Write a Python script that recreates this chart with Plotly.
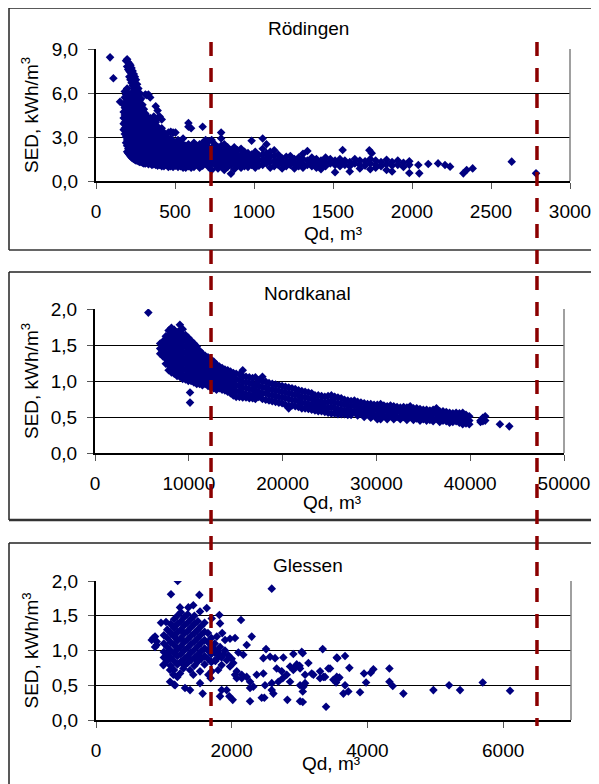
import plotly.graph_objects as go

W, H = 599, 784          # browser window
OFF = 8                  # default page margin around the plot div
FW, FH = W - OFF, H - OFF
FONT = "Liberation Sans, Arial, sans-serif"

# ---------------- Rödingen ----------------
rod_col_qd = [175, 182, 190, 197, 204, 211, 218, 225, 232, 239, 246, 253, 260, 268, 276, 285, 294, 303,
              312, 322, 332, 343, 354, 366, 378, 390, 403, 416, 430, 444, 458, 473, 488, 503, 519, 535,
              551, 568, 585, 602, 620, 638, 656, 675, 694, 713, 732, 752, 772, 792, 812, 833, 854, 875,
              896, 918, 940, 962, 985, 1008, 1031, 1055, 1079, 1103, 1128, 1153, 1178, 1204, 1230, 1256,
              1283, 1310, 1338, 1366, 1395, 1424, 1453, 1483, 1513, 1544, 1575, 1606, 1638, 1670, 1703,
              1736, 1770, 1804, 1839, 1874, 1910, 1946, 1983]
rod_col_sed = [
    [5.2, 4.7, 4.3, 3.9, 3.5],
    [6.1, 5.7, 5.0, 4.5, 4.0, 3.6, 3.2],
    [8.2, 5.9, 5.4, 4.9, 4.4, 3.9, 3.4, 3.0, 2.6],
    [8.3, 7.8, 6.3, 5.6, 5.0, 4.6, 4.1, 3.7, 3.2, 2.8, 2.4, 2.0],
    [8.1, 7.6, 6.0, 5.5, 5.1, 4.7, 4.2, 3.8, 3.4, 3.0, 2.6, 2.2, 1.9],
    [8.0, 7.5, 7.1, 5.8, 5.3, 4.9, 4.4, 4.0, 3.6, 3.2, 2.8, 2.4, 2.0, 1.8],
    [7.9, 7.4, 6.9, 5.6, 5.1, 4.6, 4.2, 3.8, 3.4, 3.0, 2.6, 2.2, 1.9, 1.7],
    [7.7, 7.2, 6.7, 6.0, 5.4, 4.9, 4.4, 4.0, 3.5, 3.1, 2.7, 2.3, 1.9, 1.6],
    [7.5, 7.0, 6.5, 5.7, 5.2, 4.7, 4.2, 3.7, 3.3, 2.9, 2.5, 2.1, 1.8, 1.55],
    [7.3, 6.8, 6.3, 5.9, 5.4, 4.9, 4.4, 3.9, 3.5, 3.0, 2.6, 2.2, 1.8, 1.5],
    [7.1, 6.6, 6.1, 5.5, 5.0, 4.5, 4.1, 3.6, 3.2, 2.8, 2.4, 2.0, 1.65, 1.45],
    [6.9, 6.4, 5.9, 5.3, 4.8, 4.3, 3.9, 3.4, 3.0, 2.6, 2.2, 1.85, 1.5, 1.4],
    [6.6, 6.2, 5.6, 5.1, 4.6, 4.1, 3.7, 3.3, 2.9, 2.5, 2.1, 1.7, 1.4],
    [6.3, 5.8, 5.3, 4.8, 4.3, 3.9, 3.5, 3.1, 2.7, 2.3, 1.9, 1.6, 1.35],
    [6.0, 5.5, 5.0, 4.5, 4.1, 3.6, 3.2, 2.8, 2.4, 2.0, 1.7, 1.3],
    [5.6, 5.1, 4.6, 4.2, 3.8, 3.4, 3.0, 2.6, 2.2, 1.9, 1.55, 1.3],
    [5.2, 4.8, 4.3, 3.9, 3.5, 3.1, 2.7, 2.4, 2.0, 1.7, 1.4, 1.25],
    [4.9, 4.5, 4.1, 3.7, 3.3, 2.9, 2.5, 2.2, 1.9, 1.6, 1.3, 1.2],
    [5.9, 4.6, 4.2, 3.8, 3.4, 3.0, 2.7, 2.3, 2.0, 1.7, 1.4, 1.2],
    [5.85, 4.4, 4.0, 3.5, 3.1, 2.8, 2.4, 2.1, 1.8, 1.5, 1.25],
    [5.9, 4.2, 3.7, 3.3, 2.9, 2.6, 2.2, 1.9, 1.6, 1.35, 1.15],
    [5.7, 4.3, 3.9, 3.4, 3.0, 2.7, 2.3, 2.0, 1.7, 1.4, 1.2],
    [4.1, 3.6, 3.2, 2.8, 2.5, 2.1, 1.8, 1.5, 1.25, 1.1],
    [4.4, 3.8, 3.3, 2.9, 2.6, 2.2, 1.9, 1.6, 1.3, 1.15],
    [5.1, 4.0, 3.5, 3.1, 2.7, 2.4, 2.0, 1.7, 1.4, 1.1],
    [4.8, 4.3, 3.7, 3.2, 2.8, 2.5, 2.1, 1.8, 1.5, 1.2, 1.05],
    [4.4, 3.4, 3.0, 2.6, 2.3, 1.9, 1.6, 1.3, 1.1],
    [4.2, 3.6, 3.1, 2.7, 2.4, 2.0, 1.7, 1.4, 1.15, 1.0],
    [3.3, 2.9, 2.5, 2.1, 1.8, 1.5, 1.2, 1.0],
    [3.0, 2.6, 2.3, 1.9, 1.6, 1.3, 1.1],
    [3.3, 2.8, 2.4, 2.1, 1.8, 1.4, 1.15, 0.95],
    [3.35, 2.9, 2.5, 2.2, 1.9, 1.6, 1.3, 1.0],
    [3.3, 2.7, 2.3, 2.0, 1.7, 1.4, 1.1, 0.95],
    [3.3, 2.6, 2.2, 1.9, 1.6, 1.3, 1.05],
    [2.8, 2.4, 2.1, 1.8, 1.5, 1.2, 0.95],
    [2.6, 2.3, 1.9, 1.6, 1.3, 1.0],
    [2.9, 2.5, 2.1, 1.8, 1.5, 1.15, 0.9],
    [2.4, 2.0, 1.7, 1.4, 1.1, 0.9],
    [3.95, 3.7, 2.5, 2.2, 1.9, 1.6, 1.3, 1.0],
    [3.6, 2.3, 2.0, 1.7, 1.4, 1.1, 0.9],
    [2.6, 2.2, 1.9, 1.5, 1.2, 0.95],
    [2.4, 2.1, 1.8, 1.45, 1.15],
    [2.5, 2.2, 1.9, 1.6, 1.3, 0.9],
    [3.7, 2.6, 2.3, 2.0, 1.7, 1.4, 1.05],
    [2.8, 2.4, 2.1, 1.8, 1.5, 1.2],
    [2.7, 2.3, 2.0, 1.6, 1.3, 0.95],
    [2.8, 2.2, 1.9, 1.5, 1.2, 0.75],
    [2.5, 2.1, 1.8, 1.4, 1.1],
    [2.3, 2.0, 1.6, 1.3, 0.85],
    [3.3, 2.9, 2.4, 2.0, 1.7, 1.4, 1.0],
    [2.5, 2.1, 1.8, 1.5, 1.15, 0.75],
    [2.3, 1.9, 1.6, 1.3, 0.95],
    [2.1, 1.8, 1.4, 1.1, 0.5],
    [2.3, 1.9, 1.6, 1.25, 0.8],
    [2.1, 1.7, 1.4, 1.05],
    [2.2, 1.8, 1.5, 1.2, 0.9],
    [2.0, 1.7, 1.35, 1.0],
    [1.9, 1.55, 1.2, 0.95],
    [2.75, 1.8, 1.45, 1.1],
    [2.0, 1.65, 1.3, 0.9],
    [1.75, 1.4, 1.05],
    [2.9, 2.2, 1.8, 1.45, 1.1],
    [2.5, 1.9, 1.55, 1.2],
    [2.0, 1.65, 1.3, 0.9],
    [2.1, 1.7, 1.35, 1.0],
    [1.8, 1.45, 1.1],
    [1.55, 1.25, 0.85],
    [1.65, 1.3, 1.0],
    [1.7, 1.4, 1.1],
    [1.5, 1.2, 0.85],
    [1.6, 1.3, 1.0],
    [1.85, 1.5, 1.15, 0.9],
    [2.05, 1.4, 1.1],
    [1.6, 1.3, 1.0],
    [1.5, 1.2, 0.9],
    [1.4, 1.1, 0.8],
    [1.6, 1.3, 1.0],
    [1.5, 1.2],
    [1.4, 1.1, 0.6],
    [1.5, 1.25, 1.0],
    [1.4, 1.1],
    [1.3, 1.0, 0.65],
    [1.5, 1.2],
    [1.4, 1.1, 0.85],
    [1.35, 1.05],
    [1.5, 1.2, 0.8],
    [1.4, 1.1, 0.9],
    [1.3, 1.0],
    [1.45, 1.15, 0.75],
    [1.3, 1.05, 0.65],
    [1.4, 1.1],
    [1.25, 0.95],
    [1.35, 1.1, 0.55],
]
rod_single_qd = [89, 110, 152, 1561, 1730, 1745, 2040, 2046, 2103, 2165, 2209, 2241, 2325, 2346, 2384, 2631, 2785]
rod_single_sed = [8.43, 7.0, 5.4, 2.11, 2.1, 1.9, 1.09, 0.52, 1.16, 1.2, 1.09, 0.98, 0.52, 0.75, 0.86, 1.32, 0.52]

# ---------------- Nordkanal ----------------
nord_col_qd = [6950, 7250, 7550, 7850, 8150, 8450, 8750, 9050, 9350, 9650, 9950, 10250, 10550, 10850, 11150,
               11450, 11750, 12050, 12350, 12650, 12950, 13250, 13550, 13850, 14150, 14450, 14750, 15050,
               15400, 15750, 16100, 16450, 16800, 17100, 17450, 17850, 18200, 18550, 18900, 19250, 19600,
               19950, 20300, 20650, 21000, 21350, 21700, 22050, 22400, 22750, 23100, 23450, 23800, 24150,
               24500, 24850, 25200, 25550, 25900, 26250, 26600, 26950, 27300, 27650, 28000, 28350, 28700,
               29050, 29400, 29750, 30100, 30450, 30800, 31150, 31500, 31850, 32200, 32550, 32900, 33250,
               33600, 33950, 34300, 34650, 35000, 35350, 35700, 36050, 36400, 36750, 37100, 37450, 37800,
               38150, 38500, 38850, 39200, 39550, 39900, 41100, 41350, 41600]
nord_col_sed = [
    [1.52, 1.45, 1.38],
    [1.55, 1.48, 1.41, 1.34],
    [1.62, 1.55, 1.47, 1.39, 1.31, 1.24],
    [1.70, 1.62, 1.54, 1.46, 1.38, 1.30, 1.22, 1.15],
    [1.74, 1.66, 1.58, 1.50, 1.42, 1.34, 1.26, 1.18, 1.12],
    [1.71, 1.63, 1.55, 1.47, 1.39, 1.31, 1.23, 1.15, 1.10],
    [1.68, 1.60, 1.52, 1.44, 1.36, 1.28, 1.20, 1.12, 1.07],
    [1.78, 1.70, 1.62, 1.54, 1.46, 1.38, 1.30, 1.22, 1.14, 1.06],
    [1.72, 1.64, 1.56, 1.48, 1.40, 1.32, 1.24, 1.16, 1.08, 1.03],
    [1.64, 1.56, 1.48, 1.40, 1.32, 1.24, 1.16, 1.08, 1.02],
    [1.60, 1.52, 1.44, 1.36, 1.28, 1.20, 1.12, 1.04, 1.00],
    [1.56, 1.48, 1.40, 1.32, 1.24, 1.16, 1.08, 1.00],
    [1.52, 1.45, 1.37, 1.29, 1.21, 1.13, 1.05, 0.98],
    [1.48, 1.40, 1.32, 1.24, 1.16, 1.08, 1.00, 0.96],
    [1.42, 1.35, 1.27, 1.19, 1.11, 1.03, 0.96],
    [1.38, 1.31, 1.23, 1.15, 1.07, 0.99, 0.94],
    [1.35, 1.28, 1.20, 1.12, 1.04, 0.96],
    [1.33, 1.25, 1.17, 1.09, 1.01, 0.93],
    [1.30, 1.22, 1.14, 1.06, 0.98, 0.91],
    [1.27, 1.19, 1.11, 1.03, 0.95, 0.90],
    [1.23, 1.16, 1.08, 1.00, 0.93, 0.88],
    [1.20, 1.13, 1.05, 0.98, 0.90],
    [1.18, 1.11, 1.03, 0.96, 0.88],
    [1.16, 1.09, 1.01, 0.94, 0.87],
    [1.15, 1.07, 1.00, 0.92, 0.85],
    [1.13, 1.05, 0.97, 0.90, 0.83],
    [1.11, 1.04, 0.96, 0.88, 0.80],
    [1.10, 1.02, 0.94, 0.86, 0.78],
    [1.09, 1.01, 0.93, 0.85, 0.78],
    [1.15, 1.07, 0.99, 0.91, 0.83, 0.77],
    [1.06, 0.98, 0.90, 0.82, 0.77],
    [1.05, 0.97, 0.89, 0.81, 0.76],
    [1.04, 0.96, 0.88, 0.80, 0.76],
    [1.05, 0.95, 0.87, 0.79, 0.75],
    [1.01, 0.93, 0.85, 0.78],
    [1.06, 0.99, 0.91, 0.83, 0.75],
    [0.99, 0.91, 0.83, 0.74],
    [0.97, 0.89, 0.81, 0.73],
    [0.96, 0.88, 0.80, 0.72],
    [0.95, 0.87, 0.79, 0.71],
    [0.94, 0.86, 0.78, 0.70],
    [0.93, 0.85, 0.77, 0.69],
    [0.92, 0.84, 0.76, 0.67],
    [0.91, 0.83, 0.75, 0.66, 0.62],
    [0.90, 0.82, 0.74, 0.66],
    [0.89, 0.81, 0.73, 0.65],
    [0.87, 0.80, 0.72, 0.64],
    [0.86, 0.78, 0.70, 0.62],
    [0.85, 0.77, 0.69, 0.62],
    [0.84, 0.76, 0.68, 0.61],
    [0.83, 0.75, 0.67, 0.60],
    [0.80, 0.73, 0.66, 0.59],
    [0.80, 0.72, 0.65, 0.58],
    [0.79, 0.71, 0.64, 0.58],
    [0.78, 0.70, 0.63, 0.57],
    [0.79, 0.71, 0.63, 0.56],
    [0.80, 0.72, 0.64, 0.55],
    [0.78, 0.70, 0.62, 0.55],
    [0.77, 0.69, 0.61, 0.54],
    [0.76, 0.68, 0.60, 0.54],
    [0.74, 0.67, 0.59, 0.54],
    [0.73, 0.66, 0.59, 0.53],
    [0.72, 0.65, 0.58, 0.53],
    [0.73, 0.66, 0.58],
    [0.71, 0.64, 0.57, 0.52],
    [0.70, 0.63, 0.56],
    [0.69, 0.62, 0.55, 0.50],
    [0.68, 0.62, 0.55],
    [0.68, 0.61, 0.54, 0.49],
    [0.67, 0.60, 0.53],
    [0.67, 0.60, 0.53, 0.47],
    [0.68, 0.61, 0.54, 0.47],
    [0.66, 0.59, 0.52],
    [0.65, 0.58, 0.51, 0.47],
    [0.66, 0.59, 0.52],
    [0.65, 0.58, 0.51, 0.47],
    [0.64, 0.57, 0.50],
    [0.63, 0.57, 0.50, 0.47],
    [0.64, 0.57, 0.50],
    [0.63, 0.56, 0.49, 0.46],
    [0.65, 0.58, 0.51],
    [0.62, 0.55, 0.48, 0.46],
    [0.62, 0.55, 0.48],
    [0.61, 0.55, 0.48, 0.45],
    [0.60, 0.54, 0.47],
    [0.60, 0.53, 0.47, 0.45],
    [0.59, 0.53, 0.46],
    [0.60, 0.54, 0.47, 0.44],
    [0.62, 0.55, 0.48],
    [0.58, 0.52, 0.45, 0.43],
    [0.58, 0.51, 0.45],
    [0.57, 0.51, 0.44],
    [0.56, 0.50, 0.44, 0.42],
    [0.55, 0.49, 0.43],
    [0.56, 0.50, 0.44],
    [0.55, 0.49, 0.42],
    [0.56, 0.50, 0.44, 0.40],
    [0.53, 0.47, 0.41],
    [0.51, 0.45, 0.40],
    [0.45, 0.43],
    [0.49, 0.44],
    [0.51, 0.45],
]
nord_single_qd = [5686, 10130, 10130, 43170, 44170]
nord_single_sed = [1.95, 0.84, 0.70, 0.40, 0.37]

# ---------------- Glessen ----------------
gle_col_qd = [1000, 1050, 1100, 1150, 1200, 1250, 1300, 1350, 1400, 1450, 1500, 1550, 1600, 1650, 1700, 1750, 1800]
gle_col_sed = [
    [1.22, 1.10, 0.98, 0.90],
    [1.30, 1.18, 1.05, 0.95, 0.85],
    [1.38, 1.25, 1.12, 1.00, 0.90, 0.78],
    [1.45, 1.32, 1.20, 1.08, 0.96, 0.85, 0.72],
    [1.50, 1.38, 1.26, 1.14, 1.02, 0.92, 0.80],
    [1.55, 1.42, 1.30, 1.18, 1.06, 0.95, 0.84],
    [1.48, 1.36, 1.24, 1.12, 1.00, 0.88, 0.78],
    [1.52, 1.40, 1.28, 1.16, 1.04, 0.92, 0.82],
    [1.45, 1.33, 1.21, 1.09, 0.97, 0.86],
    [1.50, 1.38, 1.25, 1.13, 1.01, 0.90, 0.78],
    [1.42, 1.30, 1.18, 1.06, 0.94, 0.84],
    [1.35, 1.23, 1.11, 0.99, 0.88],
    [1.40, 1.27, 1.15, 1.03, 0.92, 0.80],
    [1.25, 1.12, 1.00, 0.88],
    [1.18, 1.06, 0.95, 0.83],
    [1.10, 0.97, 0.86],
    [0.98, 0.90, 0.72],
]
gle_single_qd = [1204, 1105, 1523, 2590, 1238, 1361, 1434, 1533, 1632, 1705, 1818, 1828, 2137, 958, 1032,
                 845, 895, 821, 870, 870, 894, 1002, 1091, 1150, 1312, 1386, 1572, 1690, 1533,
                 1852, 1926, 1965, 2015, 1828, 2270, 2442, 2481, 2270, 2590, 2614, 2820, 3007, 3047, 3390,
                 2295, 2506, 3341, 3548, 2908, 3032, 2098, 2171, 2221, 2466, 2565, 2639, 2761,
                 3130, 2958, 2860, 2074, 2148, 2221, 2368, 2466, 2663, 2737, 2811,
                 2908, 3007, 3081, 3179, 3302, 3351, 3449, 3498, 3571, 2590, 2687, 2752, 2860, 3007, 3056,
                 2270, 2319, 2491, 2049, 2074, 2148, 1877, 1926, 1852, 1975, 2024, 1754, 1828, 1902, 1975, 2049,
                 1656, 1705, 1533, 1434, 1386, 1287, 1091, 1140, 1199, 1238, 992, 1165,
                 3047, 3000, 2950, 3204, 3081, 3047, 3375, 3302, 3424, 3538, 3548, 3587, 3557, 3670, 3734,
                 3670, 3646, 3719, 3891, 3950, 3980, 4049, 4088, 4324, 4324, 4373, 4530, 4972, 5203, 5365,
                 5699, 6102, 1790, 1850, 1900, 1950, 2000, 1780, 1860, 1760]
gle_single_sed = [2.0, 1.81, 1.80, 1.89, 1.62, 1.62, 1.65, 1.56, 1.61, 1.46, 1.51, 1.39, 1.44, 1.40, 1.41,
                  1.18, 1.13, 1.15, 1.05, 1.2, 1.08, 0.80, 0.55, 0.51, 0.46, 0.43, 0.38, 0.60, 0.53,
                  0.43, 0.43, 0.34, 0.29, 0.34, 0.27, 0.32, 0.32, 0.46, 0.43, 0.38, 0.29, 0.27, 0.41, 0.19,
                  1.20, 1.02, 1.02, 0.90, 0.95, 0.98, 0.97, 0.94, 1.08, 0.89, 0.91, 0.89, 0.90,
                  0.82, 0.80, 0.77, 0.70, 0.65, 0.62, 0.65, 0.67, 0.74, 0.70, 0.65,
                  0.72, 0.74, 0.65, 0.67, 0.70, 0.62, 0.74, 0.58, 0.60, 0.53, 0.55, 0.60, 0.55, 0.50, 0.48,
                  0.55, 0.48, 0.50, 0.65, 0.60, 0.60, 0.94, 0.86, 0.79, 0.77, 0.82, 1.01, 1.05, 1.15, 1.17, 1.18,
                  0.65, 0.70, 0.70, 0.65, 0.72, 0.74, 0.72, 0.65, 0.62, 0.67, 0.79, 0.50,
                  0.96, 0.78, 0.78, 0.65, 0.53, 0.26, 0.62, 0.60, 0.74, 0.54, 0.62, 0.61, 0.89, 0.92, 0.75,
                  0.50, 0.38, 0.41, 0.40, 0.67, 0.54, 0.68, 0.73, 0.74, 0.55, 0.49, 0.38, 0.43, 0.50, 0.43,
                  0.54, 0.42, 0.95, 0.90, 1.00, 0.93, 0.88, 1.20, 1.25, 0.85]

# ---------------- axes / labels ----------------
titles = ["Rödingen", "Nordkanal", "Glessen"]
x_ranges = [[0, 3000], [0, 50000], [0, 7000]]
x_ticks = [[0, 500, 1000, 1500, 2000, 2500, 3000],
           [0, 10000, 20000, 30000, 40000, 50000],
           [0, 2000, 4000, 6000]]
y_ranges = [[0, 9], [0, 2], [0, 2]]
y_ticks = [[0, 3, 6, 9], [0, 0.5, 1.0, 1.5, 2.0], [0, 0.5, 1.0, 1.5, 2.0]]
y_ticktext = [["0,0", "3,0", "6,0", "9,0"],
              ["0,0", "0,5", "1,0", "1,5", "2,0"],
              ["0,0", "0,5", "1,0", "1,5", "2,0"]]
x_title = "Qd, m³"
y_title = "SED, kWh/m<sup>3</sup>"
limit_qd_rod = [728, 2791]   # dashed limit lines, read on the Rödingen axis

# layout positions in window pixels
areas = [(96, 49, 570, 181), (95, 309, 564, 453), (96, 581, 571, 720)]   # plot areas l, t, r, b
title_pos = [(308, 28), (307, 293), (308, 565)]
xtitle_pos = [(333, 233), (332, 503), (331, 763)]


def flat(cols_x, cols_y, sx, sy):
    xs, ys = [], []
    for x, yl in zip(cols_x, cols_y):
        for y in yl:
            xs.append(x)
            ys.append(y)
    return xs + list(sx), ys + list(sy)


datasets = [flat(rod_col_qd, rod_col_sed, rod_single_qd, rod_single_sed),
            flat(nord_col_qd, nord_col_sed, nord_single_qd, nord_single_sed),
            flat(gle_col_qd, gle_col_sed, gle_single_qd, gle_single_sed)]


def px(p):
    return min(max((p - OFF) / FW, 0.0), 1.0)


def py(p):
    return min(max(1 - (p - OFF) / FH, 0.0), 1.0)


fig = go.Figure()
layout = dict(width=FW, height=FH, margin=dict(l=0, r=0, t=0, b=0, autoexpand=False),
              paper_bgcolor="white", plot_bgcolor="white", showlegend=False,
              font=dict(family=FONT, size=19, color="black"))
shapes = []
annotations = []

for i in range(3):
    sfx = "" if i == 0 else str(i + 1)
    xs, ys = datasets[i]
    fig.add_trace(go.Scatter(x=xs, y=ys, mode="markers", xaxis="x" + sfx, yaxis="y" + sfx,
                             marker=dict(symbol="diamond", size=6.6, color="#000080",
                                         line=dict(width=0)),
                             hoverinfo="x+y"))
    l, t, r, b = areas[i]
    layout["xaxis" + sfx] = dict(domain=[px(l), px(r)], range=x_ranges[i], anchor="y" + sfx,
                                 tickvals=x_ticks[i], ticktext=[str(v) for v in x_ticks[i]],
                                 ticks="outside", ticklen=6, tickwidth=1, tickcolor="#555",
                                 showline=True, linecolor="black", linewidth=2,
                                 showgrid=False, zeroline=False, automargin=False,
                                 ticklabelstandoff=6,
                                 tickfont=dict(family=FONT, size=19, color="black"))
    layout["yaxis" + sfx] = dict(domain=[py(b), py(t)], range=y_ranges[i], anchor="x" + sfx,
                                 tickvals=y_ticks[i], ticktext=y_ticktext[i],
                                 ticks="outside", ticklen=6, tickwidth=1, tickcolor="#555",
                                 showline=True, linecolor="black", linewidth=2,
                                 showgrid=True, gridcolor="black", gridwidth=1, zeroline=False,
                                 ticklabelstandoff=6, automargin=False,
                                 tickfont=dict(family=FONT, size=19, color="black"))
    # right border of plot area (gray)
    shapes.append(dict(type="line", xref="paper", yref="paper", x0=px(r), x1=px(r), y0=py(b), y1=py(t),
                       line=dict(color="#808080", width=1.5)))
    # panel title, axis titles
    annotations.append(dict(text=titles[i], xref="paper", yref="paper",
                            x=px(title_pos[i][0]), y=py(title_pos[i][1]),
                            showarrow=False, xanchor="center", yanchor="middle",
                            font=dict(family=FONT, size=19, color="black")))
    annotations.append(dict(text=x_title, xref="paper", yref="paper",
                            x=px(xtitle_pos[i][0]), y=py(xtitle_pos[i][1]),
                            showarrow=False, xanchor="center", yanchor="middle",
                            font=dict(family=FONT, size=19, color="black")))
    annotations.append(dict(text=y_title, xref="paper", yref="paper", x=px(30), y=py((t + b) / 2),
                            textangle=-90, showarrow=False, xanchor="center", yanchor="middle",
                            font=dict(family=FONT, size=19, color="black")))

# panel frames (window pixels: left, top, bottom, bottom line width)
frames = [(9, 5, 250, 1.5), (9, 272, 520, 2.5), (9, 543, None, 1.5)]
for left, top, bottom, lw in frames:
    shapes.append(dict(type="line", xref="paper", yref="paper", x0=px(left), x1=1.0, y0=py(top), y1=py(top),
                       line=dict(color="#222", width=1.5)))
    shapes.append(dict(type="line", xref="paper", yref="paper", x0=px(left), x1=px(left), y0=py(top),
                       y1=py(bottom) if bottom else 0.0, line=dict(color="#222", width=1.5)))
    if bottom:
        shapes.append(dict(type="line", xref="paper", yref="paper", x0=px(left), x1=1.0, y0=py(bottom),
                           y1=py(bottom), line=dict(color="#333", width=lw)))

# dashed limit lines (positions from the Rödingen axis)
l0, _, r0, _ = areas[0]
for q in limit_qd_rod:
    xp = px(l0) + (q - x_ranges[0][0]) / (x_ranges[0][1] - x_ranges[0][0]) * (px(r0) - px(l0))
    shapes.append(dict(type="line", xref="paper", yref="paper", x0=xp, x1=xp, y0=py(42), y1=py(726),
                       line=dict(color="#8b0000", width=3.5, dash="14px,12px"), layer="above"))

layout["shapes"] = shapes
layout["annotations"] = annotations
fig.update_layout(**layout)
fig.write_html("out.html")
